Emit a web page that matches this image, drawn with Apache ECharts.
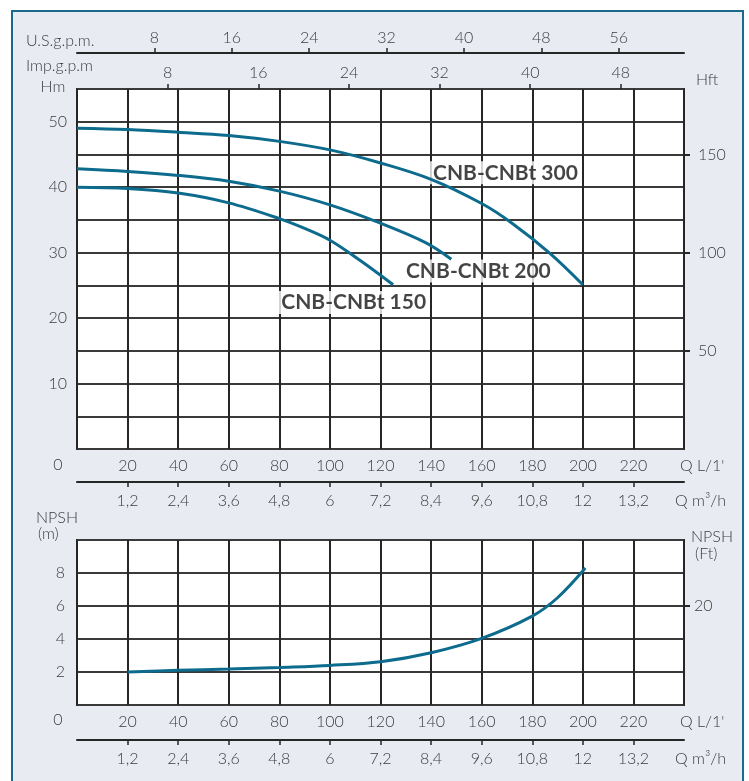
<!DOCTYPE html>
<html><head><meta charset="utf-8">
<script src="https://cdn.jsdelivr.net/npm/echarts@6/dist/echarts.min.js"></script>
<style>
html,body{margin:0;padding:0;background:#fff;width:749px;height:781px;overflow:hidden}
#frame{position:absolute;left:11px;top:10px;width:729px;height:800px;border:2px solid #1a6b8b;background:#e8ebf1}
#chart{position:absolute;left:0;top:0;width:749px;height:781px}
</style></head><body><div id="frame"></div><div id="chart"></div>
<script>
// ---- data (Q in L/min) ----
const q300 = [0, 20, 40, 60, 80, 100, 120, 140, 160, 172, 187, 200];
const h300 = [49.0, 48.8, 48.4, 47.9, 47.0, 45.7, 43.7, 41.2, 37.5, 34.5, 29.9, 25.1];
const q200 = [0, 20, 40, 60, 80, 100, 120, 138, 148];
const h200 = [42.8, 42.4, 41.8, 40.9, 39.4, 37.3, 34.5, 31.5, 29.0];
const q150 = [0, 20, 40, 60, 80, 90, 100, 112, 125];
const h150 = [40.0, 39.8, 39.1, 37.6, 35.2, 33.7, 31.9, 28.8, 25.1];
const qNpsh = [20, 40, 60, 80, 100, 120, 140, 160, 180, 190, 201];
const npsh = [2.0, 2.1, 2.18, 2.28, 2.4, 2.62, 3.17, 4.04, 5.39, 6.5, 8.3];
const curveNames = ['CNB-CNBt 300', 'CNB-CNBt 200', 'CNB-CNBt 150'];
const curveLabelAt = [[169.4, 42.2], [158.7, 27.2], [109.4, 22.4]];
// ---- tick labels ----
const usGpmTicks = [8, 16, 24, 32, 40, 48, 56];
const impGpmTicks = [8, 16, 24, 32, 40, 48];
const m3hTicks = [1.2, 2.4, 3.6, 4.8, 6, 7.2, 8.4, 9.6, 10.8, 12, 13.2];
const hftTicks = [50, 100, 150];
const npshFtTicks = [20];
const L_PER_USGAL = 3.825, L_PER_IMPGAL = 4.48;
const QMAX = 240;

const FONT = 'Lato';
const TXT = '#3c3c3c';
const GRIDC = '#262626';
const CURVE = '#0d6b8d';

const zip = (a, b) => a.map((v, i) => [v, b[i]]);
const lab = {color: TXT, fontFamily: FONT, fontSize: 16, fontWeight: 300};

function qAxis(gi) {
  return {type: 'value', gridIndex: gi, min: 0, max: QMAX, interval: 20, position: 'bottom',
    axisLine: {show: false, onZero: false}, axisTick: {show: false},
    axisLabel: Object.assign({margin: 9, formatter: v => (v > 0 && v < QMAX) ? String(v) : ''}, lab),
    splitLine: {show: true, lineStyle: {color: GRIDC, width: 2}},
    name: "Q L/1'", nameLocation: 'end', nameGap: -4,
    nameTextStyle: Object.assign({align: 'left', verticalAlign: 'top', padding: [9, 0, 0, 0]}, lab)};
}
function m3Axis(gi, off) {
  return {type: 'value', gridIndex: gi, min: 0, max: QMAX * 0.06, position: 'bottom', offset: off,
    axisLine: {show: true, onZero: false, lineStyle: {color: GRIDC, width: 2}},
    axisTick: {show: true, customValues: m3hTicks, length: 5, lineStyle: {color: GRIDC, width: 1.5}},
    axisLabel: Object.assign({margin: 11, customValues: m3hTicks,
      formatter: v => String(Math.round(v * 10) / 10).replace('.', ',')}, lab),
    splitLine: {show: false},
    name: 'Q m³/h', nameLocation: 'end', nameGap: -9,
    nameTextStyle: Object.assign({align: 'left', verticalAlign: 'top', padding: [11, 0, 0, 0]}, lab)};
}

const option = {
  animation: false,
  textStyle: {fontFamily: FONT},
  grid: [
    {left: 77, top: 89, width: 607, height: 360, show: true, backgroundColor: '#fff', borderColor: GRIDC, borderWidth: 2},
    {left: 77, top: 540, width: 607, height: 165, show: true, backgroundColor: '#fff', borderColor: GRIDC, borderWidth: 2}
  ],
  xAxis: [
    qAxis(0),
    m3Axis(0, 33),
    {type: 'value', gridIndex: 0, min: 0, max: QMAX / L_PER_IMPGAL, position: 'top',
      axisLine: {show: false, onZero: false},
      axisTick: {show: true, customValues: impGpmTicks, length: 5, lineStyle: {color: GRIDC, width: 1.5}},
      axisLabel: Object.assign({margin: 8, customValues: impGpmTicks}, lab),
      splitLine: {show: false}},
    {type: 'value', gridIndex: 0, min: 0, max: QMAX / L_PER_USGAL, position: 'top', offset: 36,
      axisLine: {show: true, onZero: false, lineStyle: {color: GRIDC, width: 2}},
      axisTick: {show: true, customValues: usGpmTicks, length: 5, lineStyle: {color: GRIDC, width: 1.5}},
      axisLabel: Object.assign({margin: 7, customValues: usGpmTicks}, lab),
      splitLine: {show: false}},
    qAxis(1),
    m3Axis(1, 35)
  ],
  yAxis: [
    {type: 'value', gridIndex: 0, min: 0, max: 55, interval: 5, position: 'left',
      axisLine: {show: false, onZero: false}, axisTick: {show: false},
      axisLabel: Object.assign({margin: 10, formatter: v => (v > 0 && v % 10 === 0) ? String(v) : ''}, lab),
      splitLine: {show: true, lineStyle: {color: '#3a3a3a', width: 2}}},
    {type: 'value', gridIndex: 0, min: 0, max: 55 * 10 / 3, position: 'right',
      axisLine: {show: false, onZero: false},
      axisTick: {show: true, customValues: hftTicks, length: 6, lineStyle: {color: GRIDC, width: 2}},
      axisLabel: Object.assign({margin: 14, customValues: hftTicks}, lab),
      splitLine: {show: false}},
    {type: 'value', gridIndex: 1, min: 0, max: 10, interval: 2, position: 'left',
      axisLine: {show: false, onZero: false}, axisTick: {show: false},
      axisLabel: Object.assign({margin: 12, formatter: v => (v > 0 && v < 10) ? String(v) : ''}, lab),
      splitLine: {show: true, lineStyle: {color: '#3a3a3a', width: 2}}},
    {type: 'value', gridIndex: 1, min: 0, max: 100 / 3, position: 'right',
      axisLine: {show: false, onZero: false},
      axisTick: {show: true, customValues: npshFtTicks, length: 6, lineStyle: {color: GRIDC, width: 2}},
      axisLabel: Object.assign({margin: 10, customValues: npshFtTicks}, lab),
      splitLine: {show: false}}
  ],
  graphic: [
    {type: 'text', style: {text: 'U.S.g.p.m.', x: 26, y: 41, verticalAlign: 'middle', fill: TXT, font: '300 16px ' + FONT}},
    {type: 'text', style: {text: 'Imp.g.p.m', x: 26, y: 66, verticalAlign: 'middle', fill: TXT, font: '300 16px ' + FONT}},
    {type: 'text', style: {text: 'Hm', x: 53, y: 87, align: 'center', verticalAlign: 'middle', fill: TXT, font: '300 16px ' + FONT}},
    {type: 'text', style: {text: 'Hft', x: 696, y: 80, verticalAlign: 'middle', fill: TXT, font: '300 16px ' + FONT}},
    {type: 'text', style: {text: '0', x: 58, y: 465, align: 'center', verticalAlign: 'middle', fill: TXT, font: '300 16px ' + FONT}},
    {type: 'text', style: {text: '0', x: 58, y: 720, align: 'center', verticalAlign: 'middle', fill: TXT, font: '300 16px ' + FONT}},
    {type: 'text', style: {text: 'NPSH', x: 36, y: 518, verticalAlign: 'middle', fill: TXT, font: '300 16px ' + FONT}},
    {type: 'text', style: {text: '(m)', x: 38, y: 534, verticalAlign: 'middle', fill: TXT, font: '300 16px ' + FONT}},
    {type: 'text', style: {text: 'NPSH', x: 691, y: 537, verticalAlign: 'middle', fill: TXT, font: '300 16px ' + FONT}},
    {type: 'text', style: {text: '(Ft)', x: 695, y: 554, verticalAlign: 'middle', fill: TXT, font: '300 16px ' + FONT}}
  ],
  series: [
    {type: 'line', xAxisIndex: 0, yAxisIndex: 0, data: zip(q300, h300), smooth: 0.35, showSymbol: false, lineStyle: {color: CURVE, width: 3}, z: 5},
    {type: 'line', xAxisIndex: 0, yAxisIndex: 0, data: zip(q200, h200), smooth: 0.35, showSymbol: false, lineStyle: {color: CURVE, width: 3}, z: 5},
    {type: 'line', xAxisIndex: 0, yAxisIndex: 0, data: zip(q150, h150), smooth: 0.35, showSymbol: false, lineStyle: {color: CURVE, width: 3}, z: 5},
    {type: 'scatter', xAxisIndex: 0, yAxisIndex: 0, symbolSize: 0, z: 3,
      data: curveLabelAt.map((p, i) => [p[0], p[1], curveNames[i]]),
      label: {show: true, position: 'inside', formatter: p => p.data[2], color: '#151515',
        fontFamily: FONT, fontWeight: 'bold', fontSize: 21, backgroundColor: '#fff', padding: [1, 3]}},
    {type: 'line', xAxisIndex: 4, yAxisIndex: 2, data: zip(qNpsh, npsh), smooth: 0.35, showSymbol: false, lineStyle: {color: CURVE, width: 3}, z: 5}
  ]
};
const chart = echarts.init(document.getElementById('chart'), null, {renderer: 'canvas'});
chart.setOption(option);
</script></body></html>
